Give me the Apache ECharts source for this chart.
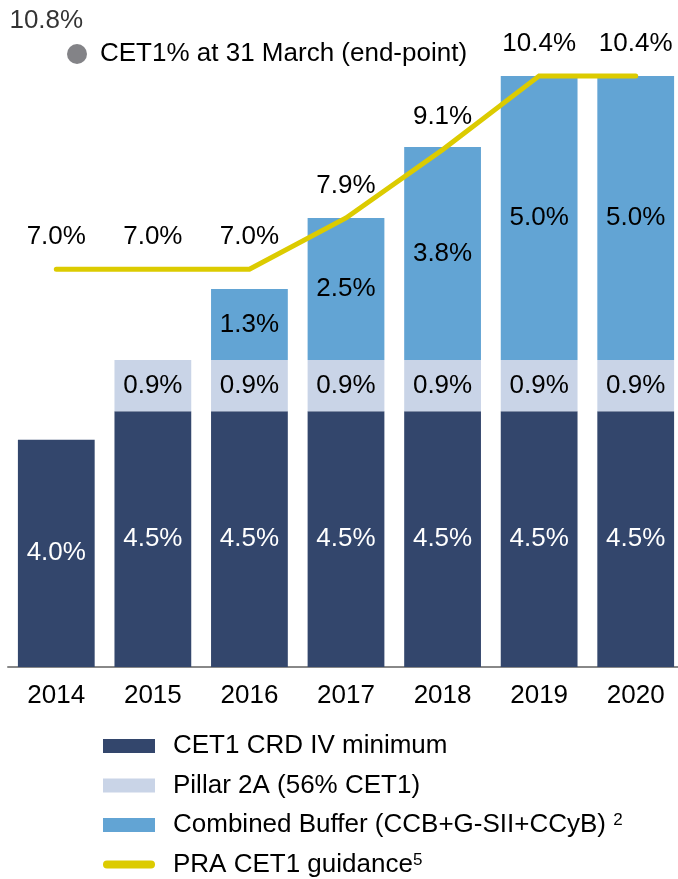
<!DOCTYPE html>
<html>
<head>
<meta charset="utf-8">
<script src="https://cdn.jsdelivr.net/npm/echarts@6/dist/echarts.min.js"></script>
<style>
  html, body { margin: 0; padding: 0; background: #fff; }
  #chart { width: 678px; height: 879px; }
</style>
</head>
<body>
<div id="chart"></div>
<script>
// data
const years = ['2014', '2015', '2016', '2017', '2018', '2019', '2020']
const crdMinimum = [4.0, 4.5, 4.5, 4.5, 4.5, 4.5, 4.5]
const pillar2A = ['-', 0.9, 0.9, 0.9, 0.9, 0.9, 0.9]
const combinedBuffer = ['-', '-', 1.25, 2.5, 3.75, 5.0, 5.0]
const praGuidance = [7.0, 7.0, 7.0, 7.9, 9.1, 10.4, 10.4]
const cet1March = [10.8, '-', '-', '-', '-', '-', '-']

const FONT = '"Liberation Sans", Arial, sans-serif'
const pct = p => p.value.toFixed(1) + '%'

const myChart = echarts.init(document.getElementById('chart'))
const options = {
    animation: false,
    textStyle: { fontFamily: FONT },
    grid: { left: 8, width: 676, top: 2, height: 665, outerBoundsMode: 'none', containLabel: false },
    xAxis: {
        type: 'category',
        data: years,
        axisLine: { lineStyle: { color: '#888', width: 2 } },
        axisTick: { show: false },
        axisLabel: { color: '#000', fontSize: 26, fontFamily: FONT, margin: 16 }
    },
    yAxis: {
        type: 'value', min: 0, max: 11.7,
        show: false,
        splitLine: { show: false }
    },
    legend: [{
        orient: 'vertical',
        left: 98, top: 728, height: 150,
        itemWidth: 52, itemHeight: 14, itemGap: 13.5,
        symbolKeepAspect: true,
        data: [
            { name: 'CET1 CRD IV minimum', icon: 'rect' },
            { name: 'Pillar 2A (56% CET1)', icon: 'rect' },
            { name: 'Combined Buffer (CCB+G-SII+CCyB)', icon: 'rect' },
            { name: 'PRA CET1 guidance', icon: 'path://M4,0 L48,0 A4,4 0 0 1 48,8 L4,8 A4,4 0 0 1 4,0 Z' }
        ],
        formatter: name => {
            if (name === 'Combined Buffer (CCB+G-SII+CCyB)') return name + ' {sup|2}'
            if (name === 'PRA CET1 guidance') return name + '{sup|5}'
            return name
        },
        textStyle: {
            color: '#000', fontSize: 26, fontFamily: FONT, lineHeight: 26,
            padding: [0, 0, 0, 13],
            rich: { sup: { fontSize: 17, lineHeight: 17, verticalAlign: 'top', color: '#000', fontFamily: FONT } }
        }
    }, {
        left: 62, top: 36,
        itemWidth: 20, itemHeight: 20,
        data: [{ name: 'CET1% at 31 March (end-point)', icon: 'circle' }],
        textStyle: { color: '#000', fontSize: 26, fontFamily: FONT, lineHeight: 26, padding: [0, 0, 0, 8] }
    }],
    series: [
        {
            name: 'CET1 CRD IV minimum', type: 'bar', stack: 'cet1',
            barCategoryGap: '20.5%',
            data: crdMinimum,
            itemStyle: { color: '#33466C' },
            label: { show: true, position: 'inside', formatter: pct, color: '#fff', fontSize: 26, fontFamily: FONT }
        },
        {
            name: 'Pillar 2A (56% CET1)', type: 'bar', stack: 'cet1',
            data: pillar2A,
            itemStyle: { color: '#C9D4E7' },
            label: { show: true, position: 'inside', formatter: pct, color: '#000', fontSize: 26, fontFamily: FONT }
        },
        {
            name: 'Combined Buffer (CCB+G-SII+CCyB)', type: 'bar', stack: 'cet1',
            data: combinedBuffer,
            itemStyle: { color: '#62A4D4' },
            label: { show: true, position: 'inside', formatter: pct, color: '#000', fontSize: 26, fontFamily: FONT }
        },
        {
            name: 'PRA CET1 guidance', type: 'line',
            data: praGuidance,
            color: '#DCCB00',
            symbol: 'circle', symbolSize: 1,
            lineStyle: { width: 5, color: '#DCCB00', cap: 'round', join: 'miter' },
            z: 5,
            label: { show: true, position: 'top', distance: 19, formatter: pct, color: '#000', fontSize: 26, fontFamily: FONT }
        },
        {
            name: 'CET1% at 31 March (end-point)', type: 'scatter',
            data: cet1March,
            color: '#646469',
            symbolSize: 0,
            label: { show: true, position: 'top', distance: 19, offset: [-10, 0], formatter: pct, color: '#000', fontSize: 26, fontFamily: FONT }
        }
    ]
}
myChart.setOption(options)
window.onresize = myChart.resize
</script>
</body>
</html>
